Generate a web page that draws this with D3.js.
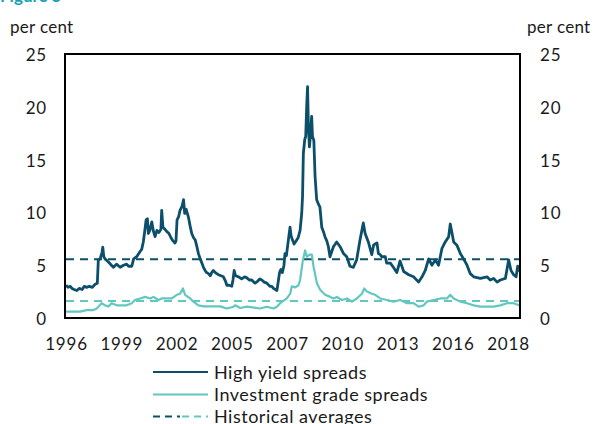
<!DOCTYPE html>
<html><head><meta charset="utf-8">
<script src="https://cdn.jsdelivr.net/npm/d3@7"></script>
<style>
html,body{margin:0;padding:0;background:#fff;}
svg text{font-family:Lato,"Open Sans",sans-serif;fill:#1a1a1a;}
</style></head>
<body>
<svg id="c" width="595" height="424"></svg>
<script>
// ---- data (decimal years, per cent) ----
const hyYears = [1997.00,1997.10,1997.20,1997.30,1997.40,1997.53,1997.65,1997.80,1997.90,1998.02,1998.15,1998.30,1998.44,1998.55,1998.60,1998.69,1998.78,1998.82,1998.87,1998.93,1999.05,1999.15,1999.25,1999.35,1999.50,1999.68,1999.85,2000.00,2000.10,2000.26,2000.35,2000.50,2000.67,2000.75,2000.83,2000.92,2000.97,2001.03,2001.08,2001.15,2001.25,2001.33,2001.41,2001.50,2001.60,2001.70,2001.74,2001.80,2001.90,2001.99,2002.10,2002.20,2002.30,2002.40,2002.45,2002.50,2002.58,2002.65,2002.75,2002.82,2002.88,2002.95,2003.07,2003.15,2003.23,2003.32,2003.40,2003.48,2003.56,2003.65,2003.73,2003.81,2003.89,2003.97,2004.06,2004.15,2004.22,2004.30,2004.40,2004.55,2004.68,2004.80,2004.90,2004.97,2005.08,2005.21,2005.27,2005.33,2005.40,2005.55,2005.70,2005.85,2005.96,2006.08,2006.20,2006.30,2006.37,2006.50,2006.60,2006.70,2006.82,2006.95,2007.10,2007.20,2007.28,2007.45,2007.52,2007.58,2007.65,2007.72,2007.80,2007.85,2007.92,2008.02,2008.10,2008.15,2008.22,2008.30,2008.40,2008.50,2008.60,2008.68,2008.72,2008.76,2008.83,2008.88,2008.93,2008.97,2009.01,2009.06,2009.12,2009.17,2009.21,2009.28,2009.34,2009.42,2009.50,2009.58,2009.67,2009.75,2009.83,2009.92,2010.00,2010.08,2010.25,2010.41,2010.58,2010.75,2010.91,2011.07,2011.24,2011.40,2011.57,2011.73,2011.82,2011.98,2012.15,2012.24,2012.31,2012.41,2012.48,2012.57,2012.64,2012.82,2012.89,2013.07,2013.22,2013.39,2013.55,2013.73,2013.98,2014.22,2014.47,2014.64,2014.80,2014.97,2015.13,2015.30,2015.46,2015.63,2015.79,2015.96,2016.04,2016.21,2016.37,2016.54,2016.70,2016.87,2017.03,2017.20,2017.53,2017.86,2018.02,2018.19,2018.36,2018.52,2018.77,2018.93,2019.05,2019.18,2019.30,2019.38,2019.46];
const hyValues = [3.1,2.9,3.0,2.8,2.7,2.6,2.8,2.7,3.0,2.9,3.0,2.9,3.2,3.3,5.5,5.6,6.2,6.7,5.8,5.6,5.4,5.2,5.0,4.8,5.1,4.8,5.0,5.1,4.9,4.9,5.6,5.8,6.3,6.5,7.2,8.5,9.3,9.4,8.0,8.3,9.1,8.2,7.7,8.3,8.1,8.4,10.2,8.6,8.4,8.2,8.0,7.6,7.3,7.1,7.3,9.3,9.6,10.2,10.6,11.2,9.9,10.3,9.5,8.7,8.0,7.6,7.4,6.8,6.1,5.6,5.2,4.8,4.5,4.3,4.2,4.0,4.3,4.5,4.3,4.1,4.0,3.9,3.5,3.1,3.1,3.0,3.6,4.5,4.0,3.9,3.7,3.9,3.8,3.6,3.6,3.4,3.3,3.5,3.7,3.6,3.4,3.3,3.0,3.0,2.8,2.6,3.5,4.3,4.6,4.3,5.0,6.1,5.9,7.4,8.6,7.8,7.4,7.0,7.3,7.6,8.3,9.9,11.5,15.6,16.9,17.2,20.3,21.9,18.0,16.2,17.5,19.1,17.2,16.8,13.4,11.2,10.8,10.5,8.6,8.2,7.7,7.3,6.75,5.8,6.75,7.2,6.75,6.1,5.8,4.9,4.8,5.5,7.4,9.0,8.0,7.2,6.0,6.9,7.0,7.1,6.1,6.0,5.8,5.8,5.2,5.2,4.8,4.3,5.4,4.4,4.1,3.9,3.4,3.9,4.5,5.6,5.0,5.5,5.0,6.6,7.2,7.7,8.9,7.2,6.9,6.1,5.6,5.0,4.2,3.9,3.75,3.9,3.6,3.75,3.4,3.6,3.75,5.5,4.5,4.1,3.9,4.9,4.4];

const igYears = [1997.00,1997.69,1998.02,1998.36,1998.52,1998.77,1998.93,1999.10,1999.26,1999.51,2000.00,2000.26,2000.42,2000.67,2000.92,2001.17,2001.33,2001.58,2001.74,2001.99,2002.24,2002.49,2002.65,2002.79,2002.90,2003.15,2003.31,2003.56,2003.81,2004.14,2004.64,2004.97,2005.30,2005.38,2005.63,2005.96,2006.62,2006.95,2007.28,2007.45,2007.61,2007.94,2008.11,2008.19,2008.36,2008.52,2008.60,2008.74,2008.85,2008.93,2009.07,2009.18,2009.26,2009.43,2009.60,2009.84,2010.09,2010.26,2010.42,2010.67,2010.92,2011.17,2011.41,2011.66,2011.78,2011.91,2012.16,2012.32,2012.57,2012.90,2013.23,2013.56,2013.89,2014.22,2014.47,2014.72,2014.88,2015.21,2015.55,2015.88,2016.04,2016.21,2016.54,2016.87,2017.20,2017.53,2017.86,2018.19,2018.52,2018.85,2019.18,2019.46];
const igValues = [0.6,0.6,0.75,0.75,0.9,1.4,1.2,1.1,1.4,1.2,1.2,1.4,1.7,1.85,2.0,1.85,2.0,1.7,1.85,1.85,1.85,2.2,2.3,2.8,2.2,1.85,1.55,1.2,1.1,1.1,1.1,0.9,1.07,1.2,0.95,1.07,0.9,1.07,0.9,1.07,1.4,1.85,2.3,3.0,2.9,3.1,3.6,5.5,6.4,5.8,6.0,6.0,4.9,3.3,2.65,2.2,2.0,1.85,2.0,1.7,1.85,1.55,1.85,2.3,2.8,2.5,2.3,2.2,1.85,1.7,1.55,1.7,1.4,1.4,1.07,1.2,1.55,1.7,1.85,1.85,2.2,1.85,1.55,1.4,1.2,1.07,1.07,1.07,1.2,1.4,1.4,1.2];

const hyAverage = 5.56;
const igAverage = 1.6;
const yTicks = [0, 5, 10, 15, 20, 25];
const tickStepDays = 1000;
const tickCount = 9;
const seriesNames = ["High yield spreads", "Investment grade spreads", "Historical averages"];
const colHY = "#0c4f6a", colIG = "#62c7bf";

// ---- helpers ----
function yearToDate(y){
  const Y = Math.floor(y);
  const start = new Date(Y, 0, 1);
  return d3.timeDay.offset(start, Math.round((y - Y) * 365.25));
}
const startDate = new Date(1996, 11, 31);
const endDate = d3.timeDay.offset(startDate, 8217);

const svg = d3.select("#c");
const L = 66, R = 520, T = 54, B = 318;
const x = d3.scaleTime().domain([startDate, endDate]).range([L, R]);
const y = d3.scaleLinear().domain([0, 25]).range([B, T]);

// title fragment (cut at top, as in the source)
svg.append("text").attr("x", 0).attr("y", 2).style("font-size", "17px").style("font-weight", "bold")
  .style("fill", "#1a9fb3").text("Figure 5");

// units
svg.append("text").attr("x", 10).attr("y", 33).style("font-size", "17px").style("letter-spacing", "0.3px").text("per cent");
svg.append("text").attr("x", 527).attr("y", 33).style("font-size", "17px").style("letter-spacing", "0.3px").text("per cent");

// averages
const avg = [[hyAverage, colHY], [igAverage, colIG]];
svg.selectAll("line.avg").data(avg).enter().append("line")
  .attr("x1", L).attr("x2", R).attr("y1", d => y(d[0])).attr("y2", d => y(d[0]))
  .attr("stroke", d => d[1]).attr("stroke-width", 2).attr("stroke-dasharray", "8,6");

// series
const line = d3.line().x(d => x(d[0])).y(d => y(d[1]));
const ig = igYears.map((t, i) => [yearToDate(t), igValues[i]]);
const hy = hyYears.map((t, i) => [yearToDate(t), hyValues[i]]);
svg.append("path").datum(ig).attr("d", line).attr("fill", "none").attr("stroke", colIG).attr("stroke-width", 2.2).attr("stroke-linejoin", "round");
svg.append("path").datum(hy).attr("d", line).attr("fill", "none").attr("stroke", colHY).attr("stroke-width", 2.8).attr("stroke-linejoin", "round");

// frame
svg.append("rect").attr("x", L - 1).attr("y", T).attr("width", R - L + 1).attr("height", B - T)
  .attr("fill", "none").attr("stroke", "#000").attr("stroke-width", 2);

// axes
const yl = d3.axisLeft(y).tickValues(yTicks).tickSize(0).tickPadding(0);
const gl = svg.append("g").attr("transform", `translate(47,0)`).call(yl);
const yr = d3.axisRight(y).tickValues(yTicks).tickSize(0).tickPadding(0);
const gr = svg.append("g").attr("transform", `translate(540,0)`).call(yr);
const xTicks = d3.range(tickCount).map(k => d3.timeDay.offset(startDate, k * tickStepDays));
const xa = d3.axisBottom(x).tickValues(xTicks).tickFormat(d3.timeFormat("%Y")).tickSize(0).tickPadding(0);
const gx = svg.append("g").attr("transform", `translate(0,${B})`).call(xa);
[gl, gr, gx].forEach(g => {
  g.select(".domain").remove();
  g.selectAll("text").style("font-family", "Lato, sans-serif").style("font-size", "17px")
    .style("letter-spacing", "0.8px").attr("fill", "#1a1a1a");
});
gl.selectAll("text").attr("dy", "0.38em");
gr.selectAll("text").attr("dy", "0.38em");
gx.selectAll("text").attr("y", 32).attr("dy", 0);

// legend
const lg = svg.append("g");
const rows = [372, 394.5, 416.5];
lg.append("line").attr("x1", 153).attr("x2", 208).attr("y1", rows[0]).attr("y2", rows[0]).attr("stroke", colHY).attr("stroke-width", 2);
lg.append("line").attr("x1", 153).attr("x2", 208).attr("y1", rows[1]).attr("y2", rows[1]).attr("stroke", colIG).attr("stroke-width", 2);
lg.append("line").attr("x1", 153).attr("x2", 180).attr("y1", rows[2]).attr("y2", rows[2]).attr("stroke", colHY).attr("stroke-width", 2).attr("stroke-dasharray", "7,5");
lg.append("line").attr("x1", 182).attr("x2", 208).attr("y1", rows[2]).attr("y2", rows[2]).attr("stroke", colIG).attr("stroke-width", 2).attr("stroke-dasharray", "7,5");
lg.selectAll("text.lt").data(seriesNames).enter().append("text")
  .attr("x", 214).attr("y", (d, i) => rows[i] + 6.5).style("font-size", "18px").style("letter-spacing", "0.5px").text(d => d);
</script>
</body></html>
